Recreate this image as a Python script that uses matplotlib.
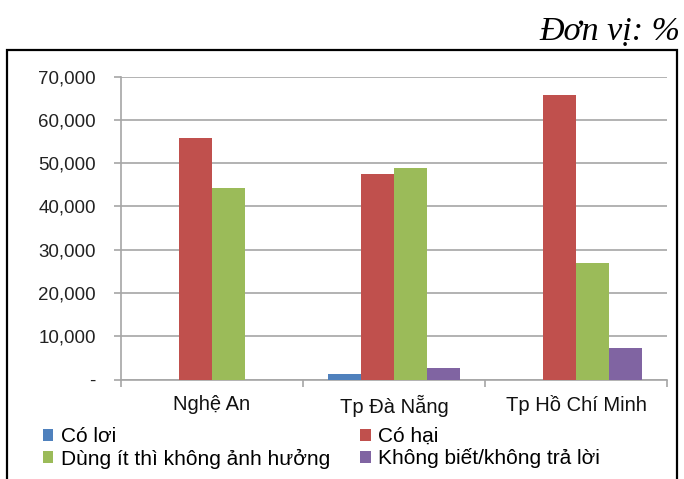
import matplotlib.pyplot as plt
from matplotlib.patches import Rectangle
import numpy as np

plt.rcParams['font.family'] = ['Liberation Sans', 'DejaVu Sans']

# survey answers by city (percent)
cities = ['Nghệ An', 'Tp Đà Nẵng', 'Tp Hồ Chí Minh']
series_names = ['Có lơi', 'Có hại', 'Dùng ít thì không ảnh hưởng', 'Không biết/không trả lời']
co_loi = [0.0, 1.2, 0.0]
co_hai = [55.7, 47.4, 65.8]
dung_it = [44.2, 48.8, 27.0]
khong_biet = [0.0, 2.6, 7.3]
colors = ['#4F81BD', '#C0504D', '#9BBB59', '#8064A2']
yticks = [0, 10, 20, 30, 40, 50, 60, 70]

values = [co_loi, co_hai, dung_it, khong_biet]

fig = plt.figure(figsize=(6.84, 4.79), dpi=100)
ax = fig.add_axes([121/684, 1 - 379.6/479, 546/684, 303.1/479])

x = np.arange(len(cities))
w = 0.18
bars = []
for i, (name, vals) in enumerate(zip(series_names, values)):
    bars.append(ax.bar(x + (i - 1.5) * w, vals, w, color=colors[i], label=name, zorder=3))

ax.set_xlim(-0.5, 2.5)
ax.set_ylim(0, 70)
ax.set_yticks(yticks)
ax.set_yticklabels(['-' if v == 0 else f'{v:.3f}'.replace('.', ',') for v in yticks])
ax.grid(axis='y', color='#A6A6A6', linewidth=1.2, zorder=0)
ax.tick_params(axis='y', length=5, width=1.2, color='#A6A6A6', pad=13, labelsize=13.5, labelcolor='#222222')

# category boundaries as ticks, names centred between them
ax.set_xticks([-0.5, 0.5, 1.5, 2.5])
ax.set_xticklabels([])
ax.set_xticks(x, minor=True)
ax.set_xticklabels(cities, minor=True, fontsize=14.5, color='#111111')
ax.tick_params(axis='x', which='major', length=5, width=1.2, color='#A6A6A6')
ax.tick_params(axis='x', which='minor', length=0, pad=11)

for s in ['top', 'right']:
    ax.spines[s].set_visible(False)
for s in ['left', 'bottom']:
    ax.spines[s].set_color('#A6A6A6')
    ax.spines[s].set_linewidth(1.2)

# legend filled row by row: column-major order for matplotlib
order = [0, 2, 1, 3]
ax.legend([bars[i] for i in order], [series_names[i] for i in order],
          ncol=2, loc='upper left', bbox_to_anchor=(43/684, 1 - 427/479),
          bbox_transform=fig.transFigure, frameon=False, fontsize=15,
          handlelength=0.5, handleheight=0.5, handletextpad=0.35,
          columnspacing=1.45, labelspacing=0.12, borderaxespad=0, borderpad=0)

# outer chart frame
fig.patches.append(Rectangle((7/684, -0.02), 670/684, 1.02 - 50/479,
                             transform=fig.transFigure, fill=False,
                             edgecolor='black', linewidth=1.6))

fig.text(680/684, 1 - 40/479, 'Đơn vị: %', ha='right', va='baseline',
         family='Liberation Serif', style='italic', fontsize=24.5)

fig.savefig('out.png', dpi=100)
